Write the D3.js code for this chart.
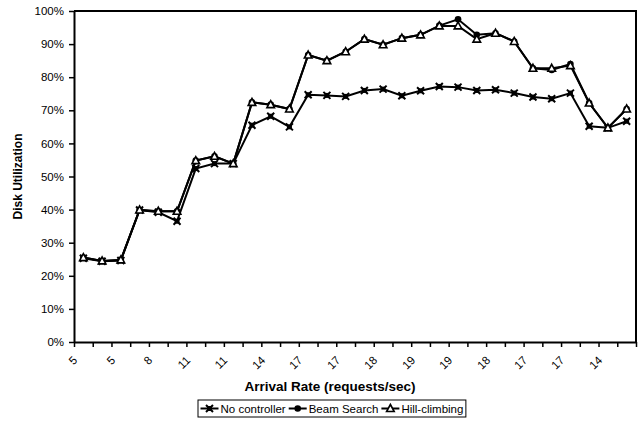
<!DOCTYPE html>
<html><head><meta charset="utf-8">
<script src="https://cdn.jsdelivr.net/npm/d3@7"></script>
<style>
body{margin:0;background:#fff}
#wrap{position:relative;width:640px;height:431px}
svg{display:block}
text,.xl{font-family:'Liberation Sans',Arial,sans-serif}
.xl{position:absolute;font-size:11.5px;line-height:1;white-space:nowrap;color:#000;transform-origin:0 0}
</style>
</head><body><div id="wrap"><svg id="c" width="640" height="431"></svg></div>
<script>
const categories = [5,5,5,8,8,8,11,11,11,14,14,14,17,17,17,18,18,18,19,19,19,18,18,18,17,17,17,14,14,14];
const noController = [25.3,24.4,24.6,39.9,39.2,36.5,52.4,53.9,53.9,65.5,68.2,65,74.7,74.5,74.2,76,76.4,74.4,75.9,77.2,77,76,76.2,75.2,74,73.5,75.2,65.2,64.7,66.7];
const beamSearch = [25.5,24.5,24.8,39.9,39.5,39.5,54.8,56.1,53.9,72.4,71.7,70.4,86.7,85,87.7,91.5,89.8,91.8,92.8,95.6,97.5,92.8,93.3,90.8,82.7,82.2,84,72.2,64.7,70.4];
const hillClimbing = [25.5,24.5,24.8,39.9,39.5,39.5,54.8,56.1,53.9,72.4,71.7,70.4,86.7,85,87.7,91.5,89.8,91.8,92.8,95.5,95.5,91.5,93.3,90.8,82.7,82.7,83.5,72.2,64.7,70.4];
const yTicks = [0,10,20,30,40,50,60,70,80,90,100];
const seriesNames = ["No controller","Beam Search","Hill-climbing"];

const FONT = "'Liberation Sans', Arial, sans-serif";
const svg = d3.select("#c");
const L=74, R=636, T=11, B=342;
const x = d3.scaleBand().domain(d3.range(categories.length)).range([L,R]);
const xb = d3.scaleLinear().domain([0,categories.length]).range([L,R]);
const y = d3.scaleLinear().domain([0,100]).range([B,T]);

svg.append("path").attr("d",`M${L},${T}H${R}V${B}`).attr("fill","none").attr("stroke","#000").attr("stroke-width",2);

const ya = svg.append("g").attr("transform",`translate(${L},0)`)
  .call(d3.axisLeft(y).tickValues(yTicks).tickFormat(d=>d+"%").tickSize(5).tickSizeOuter(0));
ya.attr("font-family",FONT).attr("font-size",11.5);
ya.select(".domain").attr("stroke-width",2);
ya.selectAll(".tick line").attr("stroke-width",1.5);
ya.selectAll("text").attr("x",-10).attr("fill","#000");

const xa = svg.append("g").attr("transform",`translate(0,${B})`)
  .call(d3.axisBottom(xb).tickValues(d3.range(categories.length+1)).tickFormat("").tickSize(5).tickSizeOuter(0));
xa.select(".domain").attr("stroke-width",2);
xa.selectAll(".tick line").attr("stroke-width",1.5);

// rotated (-45deg) category labels, every other category
const cx = i => x(i)+x.bandwidth()/2;
d3.select("#wrap").selectAll("div.xl")
  .data(d3.range(categories.length).filter(i=>i%2===0))
  .join("div").attr("class","xl")
  .style("left",i=>(cx(i)-4)+"px")
  .style("top",(B+19.5)+"px")
  .style("transform","rotate(-45deg) translate(-100%,-0.9em)")
  .text(i=>categories[i]);

svg.append("text").attr("x",330).attr("y",391).attr("text-anchor","middle")
  .attr("font-size",13.5).attr("font-weight","bold").attr("font-family",FONT).text("Arrival Rate (requests/sec)");
svg.append("text").attr("transform",`translate(22,${(T+B)/2}) rotate(-90)`).attr("text-anchor","middle")
  .attr("font-size",12).attr("font-weight","bold").attr("font-family",FONT).text("Disk Utilization");

const line = d3.line().x((d,i)=>cx(i)).y(d=>y(d));

function markX(g, px, py){
  g.append("path").attr("d",`M${px-3.5},${py-3.5}L${px+3.5},${py+3.5}M${px+3.5},${py-3.5}L${px-3.5},${py+3.5}`).attr("stroke","#000").attr("stroke-width",2);
  g.append("rect").attr("x",px-2.5).attr("y",py-2.5).attr("width",5).attr("height",5).attr("fill","#000");
}
function markC(g, px, py){ g.append("circle").attr("cx",px).attr("cy",py).attr("r",3.3).attr("fill","#000"); }
function markT(g, px, py){
  g.append("path").attr("d",`M${px},${py-4}L${px+3.8},${py+3}L${px-3.8},${py+3}Z`).attr("fill","#fff").attr("stroke","#000").attr("stroke-width",1.6);
}
const series = [
  {data:noController, mark:markX},
  {data:beamSearch, mark:markC},
  {data:hillClimbing, mark:markT}
];
const plot = svg.append("g");
series.forEach(s=>{
  plot.append("path").datum(s.data).attr("d",line).attr("fill","none").attr("stroke","#000").attr("stroke-width",2);
});
series.forEach(s=>{
  const g = plot.append("g");
  s.data.forEach((v,i)=>s.mark(g,cx(i),y(v)));
});

// legend, laid out from measured text widths, centred
const lg = svg.append("g");
const ly=400, lh=17, pad=2.5, mw=18, gapA=2, gapB=3;
const box = lg.append("rect").attr("y",ly).attr("height",lh).attr("fill","#fff").attr("stroke","#000").attr("stroke-width",1);
const items = [];
let cur = 0;
series.forEach((s,k)=>{
  const t = lg.append("text").attr("y",ly+lh/2+4).attr("font-size",11.5).attr("font-family",FONT).text(seriesNames[k]);
  const w = t.node().getComputedTextLength();
  items.push({s,t,start:cur});
  cur += mw+gapA+w+(k<series.length-1?gapB:0);
});
const lw = cur+2*pad, lx = Math.round(331.5-lw/2);
box.attr("x",lx).attr("width",lw);
items.forEach(it=>{
  const sx = lx+pad+it.start, sy = ly+lh/2;
  lg.append("line").attr("x1",sx).attr("x2",sx+mw).attr("y1",sy).attr("y2",sy).attr("stroke","#000").attr("stroke-width",2);
  it.s.mark(lg,sx+mw/2,sy);
  it.t.attr("x",sx+mw+gapA);
});
</script></body></html>
